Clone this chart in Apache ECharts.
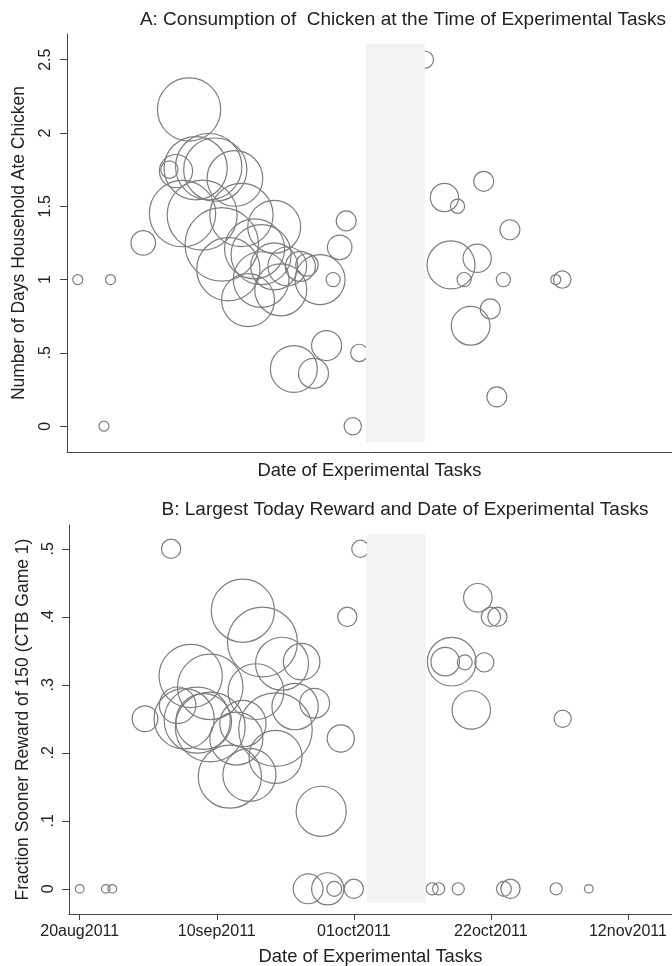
<!DOCTYPE html>
<html>
<head>
<meta charset="utf-8">
<script src="https://cdn.jsdelivr.net/npm/echarts@6/dist/echarts.min.js"></script>
<style>
  html, body { margin: 0; padding: 0; background: #fff; }
  #chart { width: 672px; height: 966px; }
</style>
</head>
<body>
<div id="chart"></div>
<script>
// panel A: chicken consumption by date of tasks
const aDates = [
  '2011-08-20', '2011-08-24', '2011-08-25', '2011-08-30', '2011-09-03', '2011-09-04',
  '2011-09-05', '2011-09-06', '2011-09-07', '2011-09-08', '2011-09-09', '2011-09-10',
  '2011-09-11', '2011-09-12', '2011-09-13', '2011-09-14', '2011-09-15', '2011-09-16',
  '2011-09-17', '2011-09-19', '2011-09-19', '2011-09-20', '2011-09-21', '2011-09-23',
  '2011-09-24', '2011-09-26', '2011-09-28', '2011-09-29', '2011-09-30', '2011-09-22',
  '2011-09-25', '2011-09-27', '2011-10-02', '2011-10-01', '2011-10-12', '2011-10-15',
  '2011-10-16', '2011-10-17', '2011-10-18', '2011-10-19', '2011-10-20', '2011-10-21',
  '2011-10-22', '2011-10-23', '2011-10-24', '2011-10-25', '2011-11-01', '2011-11-02',
  '2011-09-17'
];
const aDaysAte = [
  1.00, 0.00, 1.00, 1.25, 1.75, 1.74,
  1.45, 2.16, 1.76, 1.44, 1.77, 1.75,
  1.24, 1.07, 1.69, 1.44, 0.86, 1.21,
  1.00, 1.36, 1.09, 0.93, 1.09, 1.09,
  1.10, 1.00, 1.00, 1.22, 1.40, 0.39,
  0.36, 0.55, 0.50, 0.00, 2.50, 1.56,
  1.10, 1.50, 1.00, 0.685, 1.145, 1.67,
  0.80, 0.20, 1.00, 1.34, 1.00, 1.00,
  1.17
];
const aHouseholds = [
  1, 1, 1, 6, 3, 11,
  44, 40, 40, 49, 44, 40,
  54, 40, 31, 40, 28, 36,
  31, 28, 22, 27, 15, 9,
  5, 25, 2, 6, 4, 22,
  9, 9, 3, 3, 3, 8,
  23, 2, 2, 15, 8, 4,
  4, 4, 2, 4, 1, 3,
  36
];

// panel B: fraction sooner reward by date of tasks
const bDates = [
  '2011-08-20', '2011-08-24', '2011-08-25', '2011-08-30', '2011-09-03', '2011-09-04',
  '2011-09-05', '2011-09-06', '2011-09-07', '2011-09-08', '2011-09-09', '2011-09-09',
  '2011-09-12', '2011-09-13', '2011-09-14', '2011-09-14', '2011-09-15', '2011-09-16',
  '2011-09-17', '2011-09-19', '2011-09-19', '2011-09-20', '2011-09-22', '2011-09-23',
  '2011-09-25', '2011-09-26', '2011-09-29', '2011-09-30', '2011-09-24', '2011-09-27',
  '2011-09-28', '2011-10-01', '2011-10-02', '2011-10-13', '2011-10-14', '2011-10-15',
  '2011-10-16', '2011-10-17', '2011-10-18', '2011-10-19', '2011-10-20', '2011-10-21',
  '2011-10-22', '2011-10-23', '2011-10-24', '2011-10-25', '2011-11-01', '2011-11-02',
  '2011-11-06'
];
const bFraction = [
  0, 0, 0, 0.25, 0.50, 0.27,
  0.25, 0.313, 0.248, 0.246, 0.297, 0.238,
  0.165, 0.221, 0.409, 0.243, 0.1675, 0.29,
  0.363, 0.234, 0.194, 0.331, 0.268, 0.334,
  0.273, 0.114, 0.221, 0.40, 0, 0,
  0, 0, 0.50, 0, 0, 0.334,
  0.334, 0, 0.333, 0.263, 0.428, 0.333,
  0.40, 0.40, 0, 0, 0, 0.25,
  0
];
const bHouseholds = [
  1, 1, 1, 9, 5, 18,
  49, 54, 59, 42, 58, 66,
  54, 38, 54, 29, 38, 42,
  66, 73, 38, 38, 29, 18,
  12, 34, 10, 5, 12, 14,
  3, 5, 4, 2, 2, 11,
  32, 2, 3, 20, 11, 5,
  5, 5, 3, 5, 2, 4,
  1
];

const xTicks = ['2011-08-20', '2011-09-10', '2011-10-01', '2011-10-22', '2011-11-12'];
const aTicks = [0, 0.5, 1, 1.5, 2, 2.5];
const bTicks = [0, 0.1, 0.2, 0.3, 0.4, 0.5];
const shadeFrom = '2011-10-03';
const shadeTo = '2011-10-12';

const months = ['jan', 'feb', 'mar', 'apr', 'may', 'jun', 'jul', 'aug', 'sep', 'oct', 'nov', 'dec'];
const ts = s => +echarts.time.parse(s);
const fmtDate = v => {
  const d = new Date(v);
  return String(d.getDate()).padStart(2, '0') + months[d.getMonth()] + d.getFullYear();
};
const fmtNum = v => String(+v.toFixed(2)).replace(/^0\./, '.');

const font = '"Liberation Sans", Arial, Helvetica, sans-serif';
const ink = '#222';
const axisColor = '#444';
const ringColor = '#7d7d7d';
const xMin = ts('2011-08-18 08:36');
const xMax = ts('2011-11-18 18:00');

function bubbles(dates, vals, weights) {
  return dates.map((d, i) => [ts(d), vals[i], weights[i]]);
}

// dates are plotted as timestamps on a plain value axis so the ticks can be placed by hand
function xAxisOf(gridIndex, withTicks, nameGap) {
  return {
    type: 'value',
    gridIndex: gridIndex,
    min: xMin,
    max: xMax,
    name: 'Date of Experimental Tasks',
    nameLocation: 'middle',
    nameGap: nameGap,
    nameTextStyle: { fontFamily: font, fontSize: 18.4, color: ink },
    axisLine: { show: true, onZero: false, lineStyle: { color: axisColor, width: 1 } },
    axisTick: {
      show: withTicks,
      length: 6,
      customValues: xTicks.map(ts),
      lineStyle: { color: axisColor }
    },
    axisLabel: {
      show: withTicks,
      margin: 10,
      customValues: xTicks.map(ts),
      formatter: fmtDate,
      fontFamily: font,
      fontSize: 16,
      color: ink
    },
    splitLine: { show: false }
  };
}

function yAxisOf(gridIndex, min, max, ticks, name, nameGap, margin) {
  return {
    type: 'value',
    gridIndex: gridIndex,
    min: min,
    max: max,
    name: name,
    nameLocation: 'middle',
    nameRotate: 90,
    nameGap: nameGap,
    nameTextStyle: { fontFamily: font, fontSize: 17.5, color: ink },
    axisLine: { show: true, onZero: false, lineStyle: { color: axisColor, width: 1 } },
    axisTick: { show: true, length: 7, customValues: ticks, lineStyle: { color: axisColor } },
    axisLabel: {
      rotate: 90,
      margin: margin,
      customValues: ticks,
      formatter: fmtNum,
      fontFamily: font,
      fontSize: 16,
      color: ink
    },
    splitLine: { show: false }
  };
}

function bubbleSeries(idx, data, k, shadeLow, shadeHigh) {
  return {
    type: 'scatter',
    xAxisIndex: idx,
    yAxisIndex: idx,
    data: data,
    symbol: 'circle',
    symbolSize: d => 2 * k * Math.sqrt(d[2]),
    itemStyle: { color: 'rgba(0,0,0,0)', borderColor: ringColor, borderWidth: 1.2, opacity: 1 },
    emphasis: { disabled: true },
    silent: true,
    markArea: {
      silent: true,
      z: 3,
      itemStyle: { color: '#f1f2f2', borderWidth: 0 },
      data: [[
        { coord: [ts(shadeFrom), shadeLow] },
        { coord: [ts(shadeTo), shadeHigh] }
      ]]
    }
  };
}

const chart = echarts.init(document.getElementById('chart'), null, { renderer: 'canvas' });
chart.setOption({
  animation: false,
  backgroundColor: '#fff',
  title: [
    {
      text: 'A: Consumption of  Chicken at the Time of Experimental Tasks',
      left: 403, top: 10, textAlign: 'center', padding: 0,
      textStyle: { fontFamily: font, fontSize: 19, fontWeight: 'normal', color: ink }
    },
    {
      text: 'B: Largest Today Reward and Date of Experimental Tasks',
      left: 405, top: 500, textAlign: 'center', padding: 0,
      textStyle: { fontFamily: font, fontSize: 19, fontWeight: 'normal', color: ink }
    }
  ],
  grid: [
    { left: 67, right: 0, top: 34, height: 418, outerBoundsMode: 'none' },
    { left: 69, right: 0, top: 525, height: 389, outerBoundsMode: 'none' }
  ],
  xAxis: [xAxisOf(0, false, 10), xAxisOf(1, true, 34)],
  yAxis: [
    yAxisOf(0, -0.176, 2.675, aTicks, 'Number of Days Household Ate Chicken', 39, 13),
    yAxisOf(1, -0.037, 0.535, bTicks, 'Fraction Sooner Reward of 150 (CTB Game 1)', 37, 12)
  ],
  series: [
    bubbleSeries(0, bubbles(aDates, aDaysAte, aHouseholds), 5, -0.107, 2.61),
    bubbleSeries(1, bubbles(bDates, bFraction, bHouseholds), 4.3, -0.0206, 0.5216)
  ]
});
</script>
</body>
</html>
